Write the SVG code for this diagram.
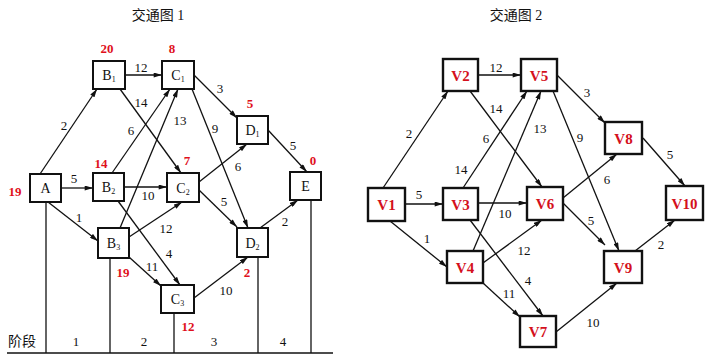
<svg xmlns="http://www.w3.org/2000/svg" width="707" height="361" viewBox="0 0 707 361">
<style>
.bg{fill:#fff}
.box{fill:#fff;stroke:#111;stroke-width:2}
.boxr{fill:#fff;stroke:#111;stroke-width:2.4}
.e{stroke:#111;stroke-width:1.3;fill:none;marker-end:url(#ah)}
.ln{stroke:#111;stroke-width:1.3;fill:none}
.nl{font-family:"Liberation Serif",serif;font-size:14px;fill:#111;text-anchor:middle}
.nr{font-family:"Liberation Serif",serif;font-size:15px;font-weight:bold;fill:#d4101c;text-anchor:middle}
.lb{font-family:"Liberation Serif",serif;font-size:13px;fill:#111;text-anchor:middle}
.rd{font-family:"Liberation Serif",serif;font-size:13px;font-weight:bold;fill:#e0101c;text-anchor:middle}
.tt{font-family:"Liberation Serif","Noto Sans CJK SC",serif;font-size:14px;fill:#111;text-anchor:middle}
.sub{font-size:8px}
</style>
<defs>
<marker id="ah" viewBox="0 0 10 6" refX="10" refY="3" markerWidth="9" markerHeight="5" orient="auto" markerUnits="userSpaceOnUse"><path d="M0,0 L10,3 L0,6 z" fill="#111"/></marker>
</defs>
<rect class="bg" x="0" y="0" width="707" height="361"/>
<text class="tt" x="158" y="20">交通图 1</text>
<text class="tt" x="516" y="20">交通图 2</text>

<g id="stages">
<line class="ln" x1="7" y1="353" x2="333" y2="353"/>
<line class="ln" x1="46" y1="202" x2="46" y2="353"/>
<line class="ln" x1="110" y1="258" x2="110" y2="353"/>
<line class="ln" x1="174" y1="313" x2="174" y2="353"/>
<line class="ln" x1="258" y1="257" x2="258" y2="353"/>
<line class="ln" x1="311" y1="200" x2="311" y2="353"/>
<text class="tt" x="22" y="346">阶段</text>
<text class="lb" x="76" y="346">1</text>
<text class="lb" x="144" y="346">2</text>
<text class="lb" x="214" y="346">3</text>
<text class="lb" x="283" y="346">4</text>
</g>

<g id="connectors">
<line class="e" x1="40" y1="174" x2="97" y2="89"/>
<line class="e" x1="125" y1="75" x2="162" y2="75"/>
<line class="e" x1="120" y1="89" x2="181" y2="173"/>
<line class="e" x1="112" y1="173" x2="170" y2="89"/>
<line class="e" x1="120" y1="228" x2="178" y2="89"/>
<line class="e" x1="194" y1="75" x2="237" y2="118"/>
<line class="e" x1="192" y1="89" x2="248" y2="228"/>
<line class="e" x1="268" y1="130" x2="307" y2="172"/>
<line class="e" x1="61" y1="188" x2="93" y2="188"/>
<line class="e" x1="48" y1="202" x2="98" y2="241"/>
<line class="e" x1="124" y1="187" x2="167" y2="187"/>
<line class="e" x1="118" y1="201" x2="180" y2="285"/>
<line class="e" x1="129" y1="237" x2="182" y2="202"/>
<line class="e" x1="129" y1="257" x2="161" y2="286"/>
<line class="e" x1="199" y1="182" x2="247" y2="144"/>
<line class="e" x1="199" y1="190" x2="237" y2="227"/>
<line class="e" x1="194" y1="298" x2="248" y2="257"/>
<line class="e" x1="260" y1="228" x2="298" y2="200"/>

<line class="e" x1="383" y1="188" x2="448" y2="91"/>
<line class="e" x1="478" y1="75" x2="521" y2="75"/>
<line class="e" x1="470" y1="91" x2="542" y2="187"/>
<line class="e" x1="463" y1="188" x2="527" y2="91"/>
<line class="e" x1="473" y1="251" x2="541" y2="91"/>
<line class="e" x1="557" y1="75" x2="605" y2="123"/>
<line class="e" x1="553" y1="91" x2="619" y2="251"/>
<line class="e" x1="643" y1="138" x2="685" y2="186"/>
<line class="e" x1="405" y1="204" x2="443" y2="204"/>
<line class="e" x1="390" y1="221" x2="447" y2="267"/>
<line class="e" x1="478" y1="203" x2="527" y2="203"/>
<line class="e" x1="470" y1="220" x2="543" y2="316"/>
<line class="e" x1="483" y1="263" x2="542" y2="220"/>
<line class="e" x1="483" y1="283" x2="520" y2="317"/>
<line class="e" x1="563" y1="198" x2="617" y2="154"/>
<line class="e" x1="563" y1="203" x2="605" y2="245"/>
<line class="e" x1="635" y1="251" x2="675" y2="220"/>
<line class="e" x1="556" y1="332" x2="617" y2="283"/>
</g>

<g id="edge-labels">
<text class="lb" x="64" y="130">2</text>
<text class="lb" x="141" y="72">12</text>
<text class="lb" x="141" y="107">14</text>
<text class="lb" x="131" y="135">6</text>
<text class="lb" x="180" y="125">13</text>
<text class="lb" x="220" y="93">3</text>
<text class="lb" x="215" y="133">9</text>
<text class="lb" x="293" y="150">5</text>
<text class="lb" x="74" y="183">5</text>
<text class="lb" x="79" y="222">1</text>
<text class="lb" x="148" y="200">10</text>
<text class="lb" x="169" y="258">4</text>
<text class="lb" x="166" y="233">12</text>
<text class="lb" x="152" y="271">11</text>
<text class="lb" x="238" y="171">6</text>
<text class="lb" x="224" y="206">5</text>
<text class="lb" x="226" y="295">10</text>
<text class="lb" x="285" y="226">2</text>

<text class="lb" x="409" y="138">2</text>
<text class="lb" x="496" y="72">12</text>
<text class="lb" x="496" y="113">14</text>
<text class="lb" x="486" y="143">6</text>
<text class="lb" x="461" y="174">14</text>
<text class="lb" x="540" y="133">13</text>
<text class="lb" x="587" y="97">3</text>
<text class="lb" x="580" y="142">9</text>
<text class="lb" x="670" y="159">5</text>
<text class="lb" x="419" y="199">5</text>
<text class="lb" x="427" y="243">1</text>
<text class="lb" x="505" y="218">10</text>
<text class="lb" x="528" y="285">4</text>
<text class="lb" x="524" y="255">12</text>
<text class="lb" x="509" y="298">11</text>
<text class="lb" x="607" y="184">6</text>
<text class="lb" x="591" y="225">5</text>
<text class="lb" x="661" y="249">2</text>
<text class="lb" x="593" y="327">10</text>
</g>

<g id="values">
<text class="rd" x="107" y="53">20</text>
<text class="rd" x="172" y="53">8</text>
<text class="rd" x="250" y="108">5</text>
<text class="rd" x="313" y="165">0</text>
<text class="rd" x="15" y="196">19</text>
<text class="rd" x="101" y="168">14</text>
<text class="rd" x="187" y="165">7</text>
<text class="rd" x="123" y="277">19</text>
<text class="rd" x="247" y="277">2</text>
<text class="rd" x="188" y="331">12</text>
</g>

<g id="A"><rect class="box" x="30" y="174" width="31" height="28"/><text class="nl" x="45.5" y="193">A</text></g>
<g id="B1"><rect class="box" x="93" y="61" width="32" height="28"/><text class="nl" x="109" y="80">B<tspan class="sub" dy="2">1</tspan></text></g>
<g id="B2"><rect class="box" x="93" y="173" width="31" height="28"/><text class="nl" x="108.5" y="192">B<tspan class="sub" dy="2">2</tspan></text></g>
<g id="B3"><rect class="box" x="98" y="228" width="31" height="30"/><text class="nl" x="113.5" y="248">B<tspan class="sub" dy="2">3</tspan></text></g>
<g id="C1"><rect class="box" x="162" y="61" width="32" height="28"/><text class="nl" x="178" y="80">C<tspan class="sub" dy="2">1</tspan></text></g>
<g id="C2"><rect class="box" x="167" y="173" width="32" height="29"/><text class="nl" x="183" y="192.5">C<tspan class="sub" dy="2">2</tspan></text></g>
<g id="C3"><rect class="box" x="161" y="285" width="33" height="28"/><text class="nl" x="177.5" y="304">C<tspan class="sub" dy="2">3</tspan></text></g>
<g id="D1"><rect class="box" x="237" y="116" width="31" height="28"/><text class="nl" x="252.5" y="135">D<tspan class="sub" dy="2">1</tspan></text></g>
<g id="D2"><rect class="box" x="237" y="228" width="31" height="29"/><text class="nl" x="252.5" y="247.5">D<tspan class="sub" dy="2">2</tspan></text></g>
<g id="E"><rect class="box" x="290" y="172" width="31" height="28"/><text class="nl" x="305.5" y="191">E</text></g>

<g id="V1"><rect class="boxr" x="368" y="188" width="37" height="33"/><text class="nr" x="386.5" y="210">V1</text></g>
<g id="V2"><rect class="boxr" x="443" y="59" width="35" height="32"/><text class="nr" x="460.5" y="80.5">V2</text></g>
<g id="V3"><rect class="boxr" x="443" y="188" width="35" height="32"/><text class="nr" x="460.5" y="209.5">V3</text></g>
<g id="V4"><rect class="boxr" x="447" y="251" width="36" height="32"/><text class="nr" x="465" y="272.5">V4</text></g>
<g id="V5"><rect class="boxr" x="521" y="59" width="36" height="32"/><text class="nr" x="539" y="80.5">V5</text></g>
<g id="V6"><rect class="boxr" x="527" y="187" width="36" height="33"/><text class="nr" x="545" y="209">V6</text></g>
<g id="V7"><rect class="boxr" x="520" y="316" width="36" height="31"/><text class="nr" x="538" y="337">V7</text></g>
<g id="V8"><rect class="boxr" x="605" y="122" width="37" height="32"/><text class="nr" x="623.5" y="143.5">V8</text></g>
<g id="V9"><rect class="boxr" x="604" y="251" width="38" height="32"/><text class="nr" x="623" y="272.5">V9</text></g>
<g id="V10"><rect class="boxr" x="666" y="186" width="37" height="34"/><text class="nr" x="684.5" y="208.5">V10</text></g>
</svg>
